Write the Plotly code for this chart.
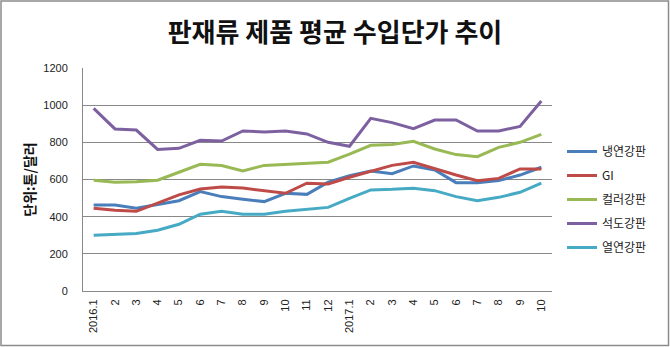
import plotly.graph_objects as go

categories = ["2016.1","2016.2","2016.3","2016.4","2016.5","2016.6","2016.7","2016.8","2016.9","2016.10","2016.11","2016.12",
              "2017.1","2017.2","2017.3","2017.4","2017.5","2017.6","2017.7","2017.8","2017.9","2017.10"]
tick_labels = ["2016.1","2","3","4","5","6","7","8","9","10","11","12",
               "2017.1","2","3","4","5","6","7","8","9","10"]

cold_rolled = [463, 463, 445, 466, 486, 535, 508, 494, 481, 526, 520, 586,
               621, 646, 631, 673, 651, 583, 583, 594, 624, 666]
gi = [445, 434, 429, 472, 517, 549, 560, 554, 538, 526, 580, 576,
      612, 646, 676, 693, 657, 624, 594, 606, 657, 657]
color_coated = [596, 585, 588, 596, 639, 682, 675, 646, 676, 682, 689, 693,
                737, 784, 788, 806, 764, 734, 723, 773, 800, 843]
tinplate = [983, 872, 866, 762, 768, 811, 807, 861, 856, 861, 845, 800,
            779, 929, 906, 874, 920, 920, 861, 861, 886, 1022]
hot_rolled = [300, 305, 310, 327, 359, 413, 429, 413, 413, 429, 438, 450,
              499, 544, 547, 553, 540, 508, 486, 504, 531, 580]

series = [
    ("냉연강판", cold_rolled, "#4A7EBB"),
    ("GI", gi, "#BE4B48"),
    ("컬러강판", color_coated, "#98B954"),
    ("석도강판", tinplate, "#7D60A0"),
    ("열연강판", hot_rolled, "#46AAC5"),
]

fig = go.Figure()
for i, (name, vals, col) in enumerate(series):
    fig.add_trace(go.Scatter(x=categories, y=vals, name=name, mode="lines",
                             line=dict(color=col, width=3), legendgroup=str(i)))

W, H = 670, 347
ml, mr, mt, mb = 83, 118, 68, 56
pw, ph = W - ml - mr, H - mt - mb

fig.update_layout(
    width=W, height=H,
    margin=dict(l=ml, r=mr, t=mt, b=mb),
    paper_bgcolor="white", plot_bgcolor="white",
    font=dict(family="Liberation Sans, Noto Sans CJK KR", size=11, color="#222"),
    title=dict(text="<b>판재류 제품 평균 수입단가 추이</b>", x=0.5, xanchor="center",
               y=1 - 33 / H, yanchor="middle",
               font=dict(family="Noto Sans CJK KR", size=26, color="#111")),
    showlegend=True,
    legend=dict(x=(562 - ml) / pw, y=(291 - 137) / ph, xanchor="left", yanchor="top",
                font=dict(family="Noto Sans CJK KR", size=12, color="#222"),
                traceorder="grouped", tracegroupgap=5, itemwidth=30,
                bgcolor="rgba(0,0,0,0)"),
    shapes=[dict(type="rect", xref="paper", yref="paper",
                 x0=(1 - ml) / pw, x1=(668.5 - ml) / pw,
                 y0=-(H - 1.5 - mt - ph) / ph, y1=1 + (mt - 1) / ph,
                 line=dict(color="#8c8c8c", width=1.5), layer="below")],
)

fig.update_xaxes(type="category", tickmode="array", tickvals=categories, ticktext=tick_labels,
                 tickangle=-90, showgrid=False, showline=True, linecolor="#888", linewidth=1,
                 ticks="", ticklabelstandoff=3, tickfont=dict(size=11, family="Liberation Sans"),
                 range=[-0.5, 21.5])
fig.update_yaxes(range=[0, 1200], dtick=200, showgrid=True, gridcolor="#888", gridwidth=1,
                 showline=True, linecolor="#888", linewidth=1, ticks="", zeroline=False,
                 ticklabelstandoff=12, tickfont=dict(size=11, family="Liberation Sans"),
                 title=dict(text="<b>단위:톤/달러</b>", standoff=4,
                            font=dict(family="Noto Sans CJK KR", size=14, color="#111")))

fig.write_html("out.html")
